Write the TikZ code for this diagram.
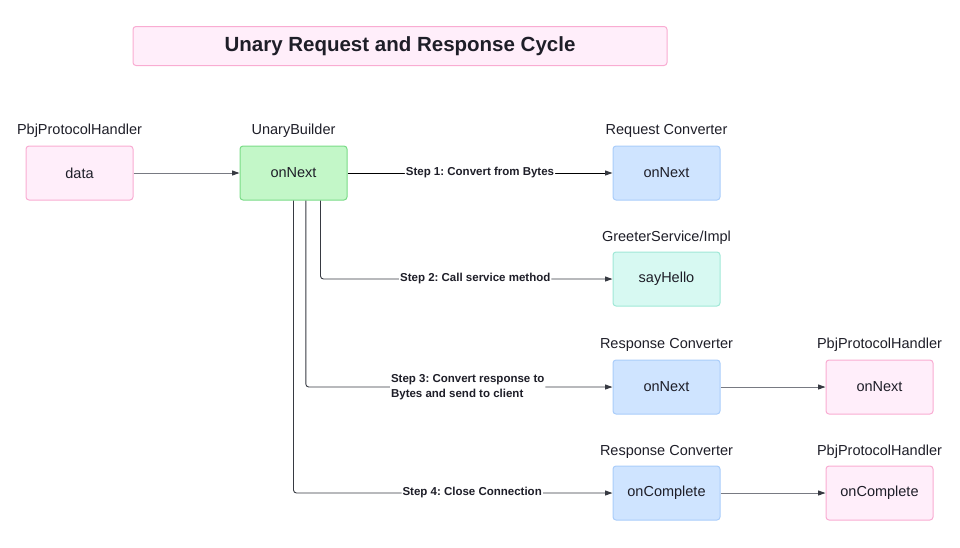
\documentclass[tikz,border=0pt]{standalone}
\usepackage{fontspec}
\setmainfont{Liberation Sans}
\usetikzlibrary{arrows.meta}
\frenchspacing
\definecolor{pinkfill}{RGB}{255,238,250}
\definecolor{pinkdraw}{RGB}{249,172,210}
\definecolor{greenfill}{RGB}{195,247,200}
\definecolor{greendraw}{RGB}{122,220,135}
\definecolor{bluefill}{RGB}{207,228,255}
\definecolor{bluedraw}{RGB}{170,205,250}
\definecolor{tealfill}{RGB}{215,249,242}
\definecolor{tealdraw}{RGB}{160,232,215}
\definecolor{txt}{RGB}{30,30,40}
\definecolor{linegray}{RGB}{120,122,130}
\definecolor{linedark}{RGB}{55,58,66}
\tikzset{
  box/.style={draw, line width=1pt, rounded corners=3pt, minimum width=107pt, minimum height=54pt,
    inner sep=0pt, text=txt, font=\fontsize{14.5}{17}\selectfont},
  pinkbox/.style={box, fill=pinkfill, draw=pinkdraw},
  greenbox/.style={box, fill=greenfill, draw=greendraw},
  bluebox/.style={box, fill=bluefill, draw=bluedraw},
  tealbox/.style={box, fill=tealfill, draw=tealdraw},
  toplabel/.style={text=txt, font=\fontsize{14.5}{17}\selectfont, inner sep=0pt},
  steplbl/.style={fill=white, text=txt, inner sep=1pt, font=\fontsize{11.5}{15}\selectfont\bfseries},
  conn/.style={draw=linegray, line width=0.9pt, -{Triangle[length=7.5pt,width=5pt,color=linedark]}, rounded corners=3pt},
  stepconn/.style={conn, draw=linedark},
}
\begin{document}
\begin{tikzpicture}[x=1pt, y=-1pt]
\useasboundingbox (0,0) rectangle (960,547);
% title
\node[draw=pinkdraw, fill=pinkfill, line width=1pt, rounded corners=3pt, minimum width=534pt, minimum height=39pt,
  font=\fontsize{20.5}{24}\selectfont\bfseries, text=txt] (title) at (400,46) {Unary Request and Response Cycle};
% boxes
\node[pinkbox] (data) at (79.5,173) {data};
\node[greenbox] (ub) at (293.5,173) {onNext};
\node[bluebox] (rq) at (666.5,173) {onNext};
\node[tealbox] (sh) at (666.5,279) {sayHello};
\node[bluebox] (rn) at (666.5,387) {onNext};
\node[bluebox] (rc) at (666.5,493) {onComplete};
\node[pinkbox] (pn) at (879.5,387) {onNext};
\node[pinkbox] (pc) at (879.5,493) {onComplete};
% labels above
\node[toplabel] (ldata) at (79.5,131) {PbjProtocolHandler};
\node[toplabel] (lub) at (293.5,131) {UnaryBuilder};
\node[toplabel] (lrq) at (666.5,131) {Request Converter};
\node[toplabel] (lsh) at (666.5,238) {GreeterService/Impl};
\node[toplabel] (lrn) at (666.5,345) {Response Converter};
\node[toplabel] (lrc) at (666.5,452) {Response Converter};
\node[toplabel] (lpn) at (879.5,345) {PbjProtocolHandler};
\node[toplabel] (lpc) at (879.5,452) {PbjProtocolHandler};
% connectors
\draw[conn] (data) -- (ub);
\draw[stepconn, draw=black] (ub) -- node[steplbl, pos=0.5] {Step 1: Convert from Bytes} (rq);
\draw[stepconn] ([xshift=27pt]ub.south) |- node[steplbl, pos=0.765] {Step 2: Call service method} (sh.west);
\draw[stepconn] ([xshift=12.3pt]ub.south) |- node[steplbl, pos=0.764, align=left] {Step 3: Convert response to\\Bytes and send to client} (rn.west);
\draw[stepconn] ([xshift=0pt]ub.south) |- node[steplbl, pos=0.78] {Step 4: Close Connection} (rc.west);
\draw[conn] (rn) -- (pn);
\draw[conn] (rc) -- (pc);
\end{tikzpicture}
\end{document}
